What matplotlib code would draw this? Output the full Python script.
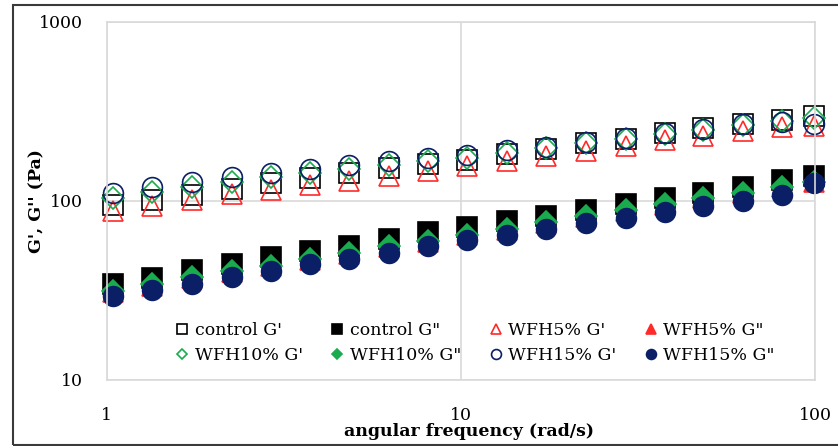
import matplotlib.pyplot as plt
from matplotlib.patches import Rectangle

plt.rcParams['font.family'] = ['DejaVu Serif']

# angular frequency sweep (rad/s)
freq = [1.04, 1.34, 1.74, 2.26, 2.91, 3.74, 4.82, 6.25, 8.06, 10.4,
        13.5, 17.4, 22.5, 29.2, 37.6, 48.4, 62.8, 80.9, 99.6]

# storage modulus G' (Pa)
control_g1 = [95, 101, 108, 117, 126, 134, 143, 153, 161, 169,
              183, 195, 210, 221, 239, 255, 268, 283, 298]
wfh5_g1 = [88, 94, 101, 109, 115, 123, 129, 138, 147, 157,
           167, 178, 190, 202, 219, 230, 245, 258, 262]
wfh10_g1 = [104, 112, 120, 128, 136, 143, 151, 159, 166, 174,
            186, 197, 210, 222, 237, 250, 265, 280, 292]
wfh15_g1 = [111, 120, 128, 136, 143, 151, 159, 167, 174, 180,
            192, 200, 213, 224, 239, 252, 268, 276, 268]

# loss modulus G'' (Pa)
control_g2 = [34.1, 37.0, 40.8, 44.0, 48.3, 52.1, 56.1, 60.8, 66.6, 71.0,
              76.6, 82.3, 88.9, 95.9, 103, 111, 120, 130, 138]
wfh5_g2 = [30.8, 33.5, 36.9, 39.8, 43.0, 46.8, 50.4, 54.8, 58.9, 64.0,
           69.0, 75.5, 81.6, 88.0, 95.0, 103, 110, 119, 128]
wfh10_g2 = [31.3, 34.0, 37.4, 40.4, 43.4, 47.3, 51.1, 55.5, 59.3, 64.7,
            69.6, 76.4, 82.4, 88.7, 95.8, 104, 111, 120, 128]
wfh15_g2 = [29.2, 31.5, 34.2, 37.3, 40.2, 44.0, 47.1, 50.7, 55.6, 60.1,
            64.1, 69.2, 75.2, 80.4, 86.4, 93.8, 100, 108, 125]

fig = plt.figure(figsize=(8.38, 4.46), dpi=100)
ax = fig.add_axes([0.1273, 0.1491, 0.8452, 0.8016])

# outer chart border
fig.patches.append(Rectangle((0.0155, 0.002), 0.99, 0.987, transform=fig.transFigure,
                             fill=False, edgecolor='#3a3a3a', linewidth=1.5))

black, red, green, navy = '#000000', '#ff2a2a', '#1aab4f', '#0a1f66'
ms = 15
series = [
    (control_g1, 's', black, False, "control G'", ms),
    (control_g2, 's', black, True, 'control G"', ms),
    (wfh5_g1, '^', red, False, "WFH5% G'", ms),
    (wfh5_g2, '^', red, True, 'WFH5% G"', ms),
    (wfh10_g1, 'D', green, False, "WFH10% G'", ms * 0.72),
    (wfh10_g2, 'D', green, True, 'WFH10% G"', ms * 0.72),
    (wfh15_g1, 'o', navy, False, "WFH15% G'", ms * 0.95),
    (wfh15_g2, 'o', navy, True, 'WFH15% G"', ms * 0.95),
]
handles = {}
for vals, mk, col, filled, lab, size in series:
    h, = ax.plot(freq, vals, linestyle='none', marker=mk, markersize=size,
                 markerfacecolor=col if filled else 'none', markeredgecolor=col,
                 markeredgewidth=1.2, clip_on=False, label=lab)
    handles[lab] = h

ax.set_xscale('log')
ax.set_yscale('log')
ax.set_xlim(1, 100)
ax.set_ylim(10, 1000)
ax.set_xticks([1, 10, 100])
ax.set_xticklabels(['1', '10', '100'])
ax.set_yticks([10, 100, 1000])
ax.set_yticklabels(['10', '100', '1000'])
ax.minorticks_off()
ax.tick_params(length=0, labelsize=12.5)
ax.tick_params(axis='x', pad=20)
ax.tick_params(axis='y', pad=17)
ax.grid(True, color='#d9d9d9', linewidth=1.2)
ax.set_axisbelow(True)
for s in ax.spines.values():
    s.set_color('#d9d9d9')
    s.set_linewidth(1.2)

ax.set_xlabel('angular frequency (rad/s)', fontsize=12.5, fontweight='bold')
ax.xaxis.set_label_coords(0.5115, -0.122)
ax.set_ylabel("G', G'' (Pa)", fontsize=12.5, fontweight='bold')
ax.yaxis.set_label_coords(-0.087, 0.5)

order = ["control G'", "WFH10% G'", 'control G"', 'WFH10% G"',
         "WFH5% G'", "WFH15% G'", 'WFH5% G"', 'WFH15% G"']
ax.legend([handles[k] for k in order], order, ncol=4, frameon=False,
          markerscale=0.5, fontsize=12.5, handlelength=0.8, handletextpad=0.3,
          columnspacing=1.6, labelspacing=0.45,
          loc='lower center', bbox_to_anchor=(0.52, 0.0))

fig.savefig('out.png', dpi=100)
